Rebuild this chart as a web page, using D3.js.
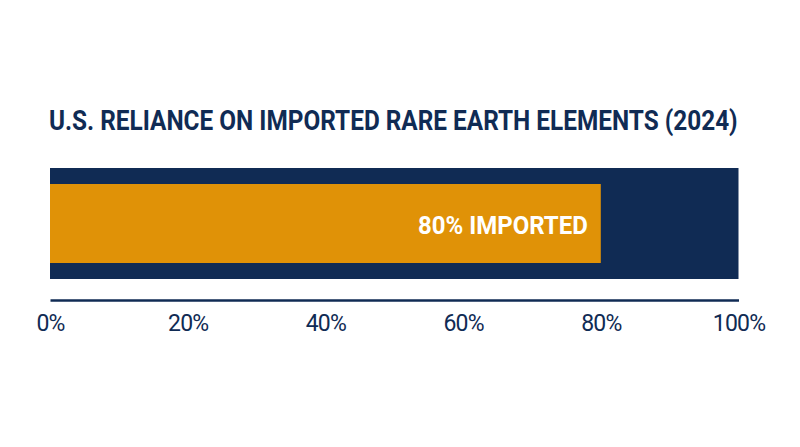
<!DOCTYPE html>
<html>
<head>
<meta charset="utf-8">
<script src="https://cdn.jsdelivr.net/npm/d3@7"></script>
<style>
    html, body { margin: 0; padding: 0; background: #fff; }
    svg { display: block; }
    text { font-family: Roboto, sans-serif; }
</style>
</head>
<body>
<div id="chart"></div>
<script>
    var titleText = "U.S. RELIANCE ON IMPORTED RARE EARTH ELEMENTS (2024)";
    var domainExtent = [0, 100];
    var tickValues = [0, 20, 40, 60, 80, 100];
    var importedShare = [80];
    var importedLabels = ["80% IMPORTED"];

    var width = 800, height = 447;
    var navy = "#102b54", orange = "#e09207";

    var svg = d3.select("#chart").append("svg")
        .attr("width", width)
        .attr("height", height);

    var x = d3.scaleLinear().domain(domainExtent).range([50, 738.5]);

    // squeeze a text horizontally to the width it has in the picture
    var squeeze = function(sel, px, py, target) {
        var len = sel.node().getComputedTextLength();
        sel.attr("transform", "translate(" + px + "," + py + ") scale(" + (target / len) + ",1)");
    };

    var title = svg.append("text")
        .attr("fill", navy)
        .attr("font-size", 27)
        .attr("font-weight", 700)
        .text(titleText);
    squeeze(title, 49, 129.5, 689);

    // background track
    svg.append("rect")
        .attr("x", x(domainExtent[0]))
        .attr("y", 168)
        .attr("width", x(domainExtent[1]) - x(domainExtent[0]))
        .attr("height", 111)
        .attr("fill", navy);

    // imported share
    svg.selectAll(".bar")
        .data(importedShare)
        .enter()
        .append("rect")
        .attr("class", "bar")
        .attr("x", x(0))
        .attr("y", 184)
        .attr("width", function(d) { return x(d) - x(0); })
        .attr("height", 79)
        .attr("fill", orange);

    var barLabel = svg.append("text")
        .attr("text-anchor", "end")
        .attr("fill", "#fff")
        .attr("font-size", 25.5)
        .attr("font-weight", 700)
        .text(importedLabels[0]);
    squeeze(barLabel, x(importedShare[0]) - 13, 233.5, 170);

    var axis = d3.axisBottom(x)
        .tickValues(tickValues)
        .tickSize(0)
        .tickPadding(15)
        .tickFormat(function(d) { return d + "%"; });

    var axisG = svg.append("g")
        .attr("transform", "translate(0,300)")
        .call(axis);

    axisG.select(".domain")
        .attr("stroke", navy)
        .attr("stroke-width", 2.5);

    axisG.selectAll("text")
        .attr("fill", navy)
        .style("font-family", "Roboto, sans-serif")
        .style("font-size", "23px")
        .style("letter-spacing", "-0.8px");
</script>
</body>
</html>
